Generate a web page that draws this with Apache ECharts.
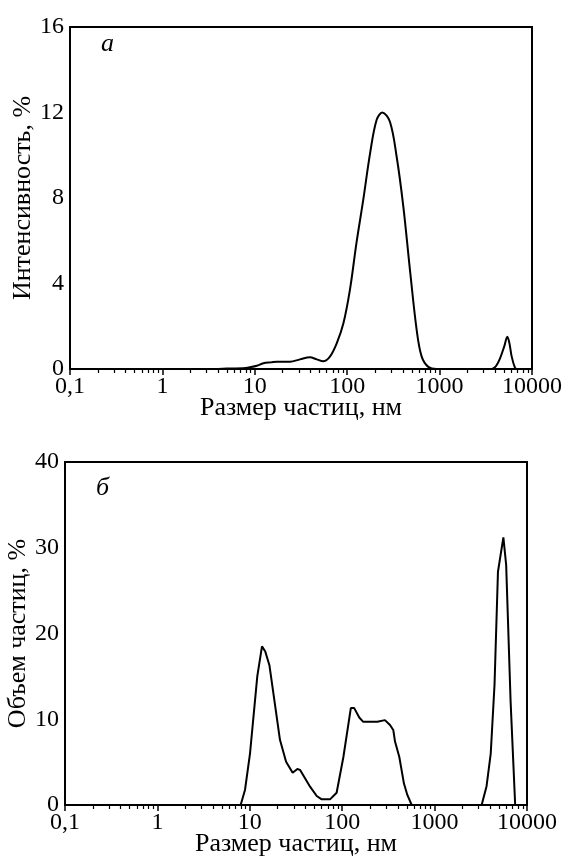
<!DOCTYPE html>
<html>
<head>
<meta charset="utf-8">
<script src="https://cdn.jsdelivr.net/npm/echarts@6/dist/echarts.min.js"></script>
<style>
  html, body { margin: 0; padding: 0; background: #fff; }
  #chart { width: 567px; height: 864px; }
</style>
</head>
<body>
<div id="chart"></div>
<script>
// panel a: intensity distribution (nm, %)
const sizesA = [0.4, 1, 3, 5, 8, 8.9, 10.5, 12.4, 15, 17.3, 21, 24, 30.8, 39.5, 46.8, 55, 65, 77, 91, 107, 126, 149, 177, 208, 240, 290, 343, 405, 478, 565, 640, 755, 930,
  3500, 3810, 4100, 4510, 5000, 5410, 5700, 6030, 6550, 6800];
const intensityA = [0, 0, 0, 0.02, 0.05, 0.08, 0.15, 0.27, 0.31, 0.34, 0.34, 0.34, 0.45, 0.55, 0.45, 0.36, 0.58, 1.2, 2.14, 3.7, 5.9, 7.9, 10.1, 11.65, 12.0, 11.57, 9.93, 7.6, 4.63, 1.82, 0.58, 0.1, 0,
  0, 0.03, 0.15, 0.5, 1.05, 1.51, 1.2, 0.58, 0.05, 0];

// panel б: volume distribution (nm, %)
const sizesB = [0.1, 7.96, 8.87, 10.05, 12.05, 13.55, 14.7, 16.3, 21.2, 24.7, 29.1, 32.7, 34.9, 44.9, 53, 60, 73.8, 87, 103, 124, 135, 153, 169, 240, 252, 290, 329, 357, 373, 415, 466, 507, 565,
  3230, 3650, 4050, 4450, 4850, 5550, 5950, 6650, 7450];
const volumeB = [0, 0, 1.75, 6.0, 15.0, 18.5, 17.9, 16.3, 7.6, 5.05, 3.77, 4.2, 4.1, 2.14, 1.05, 0.66, 0.66, 1.43, 5.6, 11.3, 11.3, 10.2, 9.7, 9.7, 9.9, 9.9, 9.33, 8.75, 7.4, 5.6, 2.5, 1.17, 0,
  0, 2.2, 6, 14, 27.2, 31.2, 28, 12, 0];

const majorTicks = [0.1, 1, 10, 100, 1000, 10000];
const tickLabels = ['0,1', '1', '10', '100', '1000', '10000'];
const minorTicks = [];
[0.1, 1, 10, 100, 1000].forEach(d => { for (let k = 2; k <= 9; k++) minorTicks.push(+(d * k).toPrecision(3)); });

const xTitle = 'Размер частиц, нм';
const yTitleA = 'Интенсивность, %';
const yTitleB = 'Объем частиц, %';
const panelA = 'а';
const panelB = 'б';

const FONT = 'Liberation Serif';
const txt = { color: '#000', fontFamily: FONT, fontSize: 24 };
const nameTxt = { color: '#000', fontFamily: FONT, fontSize: 26 };

function pairs(xs, ys) { return xs.map((x, i) => [x, ys[i]]); }

function majorAxis(grid) {
  return {
    type: 'log', logBase: 10, gridIndex: grid, position: 'bottom', min: 0.1, max: 10000,
    name: xTitle, nameLocation: 'middle', nameGap: 26, nameMoveOverlap: false, nameTextStyle: nameTxt,
    axisLine: { show: true, lineStyle: { color: '#000', width: 2 } },
    axisTick: { show: true, inside: false, length: 6, lineStyle: { color: '#000', width: 1.5 }, customValues: majorTicks },
    axisLabel: Object.assign({ margin: 6, customValues: majorTicks,
      formatter: v => tickLabels[Math.round(Math.log10(v)) + 1] }, txt),
    splitLine: { show: false }
  };
}
function minorAxis(grid) {
  return {
    type: 'log', logBase: 10, gridIndex: grid, position: 'bottom', offset: 0, min: 0.1, max: 10000,
    axisLine: { show: false },
    axisTick: { show: true, inside: false, length: 4, lineStyle: { color: '#000', width: 1.2 }, customValues: minorTicks },
    axisLabel: { show: false },
    splitLine: { show: false }
  };
}
function yAxis(grid, max, step, name) {
  return {
    type: 'value', gridIndex: grid, min: 0, max: max, interval: step,
    name: name, nameLocation: 'middle', nameGap: 34, nameMoveOverlap: false, nameRotate: 90, nameTextStyle: nameTxt,
    axisLine: { show: true, lineStyle: { color: '#000', width: 2 } },
    axisTick: { show: false },
    axisLabel: Object.assign({ margin: 6 }, txt),
    splitLine: { show: false }
  };
}

const chart = echarts.init(document.getElementById('chart'), null, { renderer: 'canvas' });
chart.setOption({
  backgroundColor: '#fff',
  animation: false,
  title: [
    { text: panelA, left: 96, top: 26, textStyle: { color: '#000', fontFamily: FONT, fontSize: 26, fontStyle: 'italic', fontWeight: 'normal' } },
    { text: panelB, left: 91, top: 470, textStyle: { color: '#000', fontFamily: FONT, fontSize: 26, fontStyle: 'italic', fontWeight: 'normal' } }
  ],
  grid: [
    { left: 70, top: 27, width: 462, height: 342, outerBoundsMode: 'none', containLabel: false,
      show: true, borderColor: '#000', borderWidth: 2, backgroundColor: 'transparent' },
    { left: 65, top: 462, width: 462, height: 343, outerBoundsMode: 'none', containLabel: false,
      show: true, borderColor: '#000', borderWidth: 2, backgroundColor: 'transparent' }
  ],
  xAxis: [majorAxis(0), minorAxis(0), majorAxis(1), minorAxis(1)],
  yAxis: [yAxis(0, 16, 4, yTitleA), yAxis(1, 40, 10, yTitleB)],
  series: [
    { type: 'line', xAxisIndex: 0, yAxisIndex: 0, data: pairs(sizesA, intensityA), smooth: 0.35, symbol: 'none',
      lineStyle: { color: '#000', width: 2 } },
    { type: 'line', xAxisIndex: 2, yAxisIndex: 1, data: pairs(sizesB, volumeB), smooth: false, symbol: 'none',
      lineStyle: { color: '#000', width: 2 } }
  ]
});
</script>
</body>
</html>
